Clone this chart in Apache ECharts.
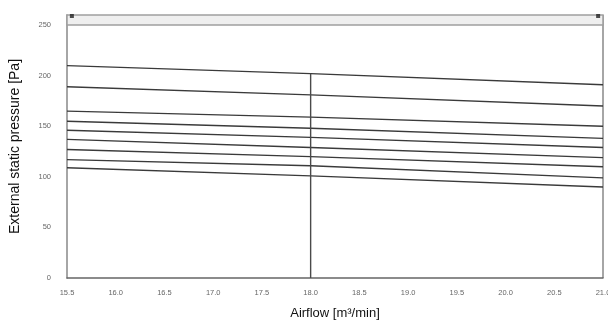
<!DOCTYPE html>
<html>
<head>
<meta charset="utf-8">
<script src="https://cdn.jsdelivr.net/npm/echarts@6/dist/echarts.min.js"></script>
<style>
  html, body { margin: 0; padding: 0; background: #fff; }
  #chart { width: 608px; height: 325px; }
</style>
</head>
<body>
<div id="chart"></div>
<script>
// airflow points where each curve was read
var airflow = [15.5, 18.0, 21.0];
var xTicks = ['15.5', '16.0', '16.5', '17.0', '17.5', '18.0', '18.5', '19.0', '19.5', '20.0', '20.5', '21.0'];

// external static pressure [Pa] per curve, top to bottom
var curve1 = [210, 202, 191];
var curve2 = [189, 181, 170];
var curve3 = [165, 159, 150];
var curve4 = [155, 148, 138];
var curve5 = [146, 139, 129];
var curve6 = [137, 129, 119];
var curve7 = [127, 120, 110];
var curve8 = [117, 111, 99];
var curve9 = [109, 101, 90];
var curves = [curve1, curve2, curve3, curve4, curve5, curve6, curve7, curve8, curve9];

// vertical marker at rated airflow
var ratedAirflow = 18.0;
var ratedTop = 202;

// band along the top of the chart
var bandLow = 250;
var bandHigh = 260;
var bandEnds = [15.55, 20.95];

var chart = echarts.init(document.getElementById('chart'), null, { renderer: 'canvas' });

var lineColor = '#3a3a3a';
var series = curves.map(function (c, i) {
  return {
    name: 'c' + (i + 1),
    type: 'line',
    data: airflow.map(function (x, j) { return [x, c[j]]; }),
    showSymbol: false,
    lineStyle: { color: lineColor, width: 1.4 },
    silent: true
  };
});

series.push({
  name: 'rated',
  type: 'line',
  data: [[ratedAirflow, 0], [ratedAirflow, ratedTop]],
  showSymbol: false,
  lineStyle: { color: '#4a4a4a', width: 1.4 },
  silent: true,
  markArea: {
    silent: true,
    itemStyle: { color: '#efefef', borderColor: '#a0a0a0', borderWidth: 1.5 },
    data: [[{ coord: [15.5, bandLow] }, { coord: [21.0, bandHigh] }]]
  }
});

series.push({
  name: 'ends',
  type: 'scatter',
  data: bandEnds.map(function (x) { return [x, bandHigh - 1]; }),
  symbol: 'rect',
  symbolSize: 4,
  itemStyle: { color: '#222' },
  silent: true
});

var option = {
  animation: false,
  grid: { left: 67, right: 5, top: 15, bottom: 47, outerBoundsMode: 'none' },
  xAxis: {
    type: 'value',
    min: 15.5,
    max: 21.0,
    interval: 0.5,
    name: 'Airflow [m³/min]',
    nameLocation: 'middle',
    nameGap: 29,
    nameTextStyle: { fontFamily: 'Liberation Sans', fontSize: 13, color: '#111' },
    axisLine: { lineStyle: { color: '#666', width: 1.5 } },
    axisTick: { show: false },
    axisLabel: {
      fontSize: 7.5,
      color: '#666',
      margin: 11,
      fontFamily: 'Liberation Sans',
      formatter: function (v) {
        var s = v.toFixed(1);
        return xTicks.indexOf(s) >= 0 ? s : '';
      }
    },
    splitLine: { show: false }
  },
  yAxis: {
    type: 'value',
    min: 0,
    max: 260,
    interval: 50,
    name: 'External static pressure [Pa]',
    nameLocation: 'middle',
    nameGap: 45,
    nameTextStyle: { fontFamily: 'Liberation Sans', fontSize: 14, color: '#111' },
    axisLine: { show: true, lineStyle: { color: '#888', width: 1.5 } },
    axisTick: { show: false },
    axisLabel: { fontSize: 7.5, color: '#666', margin: 16, fontFamily: 'Liberation Sans', showMaxLabel: false },
    splitLine: { show: false }
  },
  series: series
};

chart.setOption(option);

// right border of the plot frame
var p0 = chart.convertToPixel({ gridIndex: 0 }, [21.0, 0]);
var p1 = chart.convertToPixel({ gridIndex: 0 }, [21.0, 260]);
chart.setOption({
  graphic: [{
    type: 'line',
    shape: { x1: p0[0], y1: p0[1], x2: p1[0], y2: p1[1] },
    style: { stroke: '#888', lineWidth: 1.5 },
    silent: true
  }]
});
</script>
</body>
</html>
